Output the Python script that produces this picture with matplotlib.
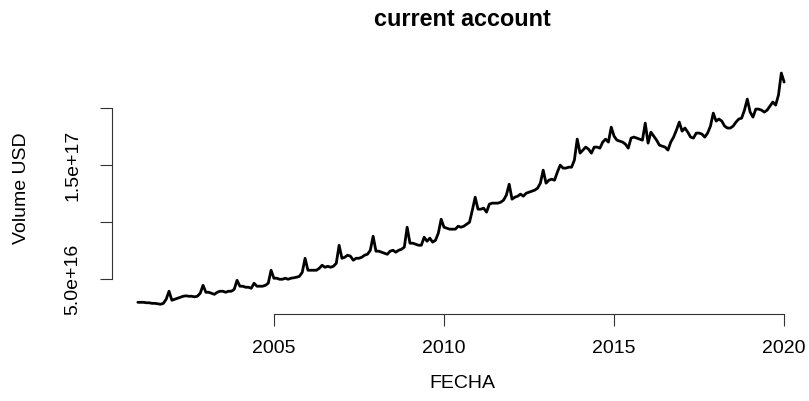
import numpy as np
import matplotlib
matplotlib.use("Agg")
import matplotlib.pyplot as plt

plt.rcParams['font.family'] = ['Liberation Sans', 'DejaVu Sans']

# Monthly current-account volume, in units of 1e16 USD (Jan..Dec)
start_year = 2001
vol_2001 = [2.98, 2.98, 2.98, 2.94, 2.94, 2.89, 2.89, 2.85, 2.81, 2.89, 3.25, 3.95]
vol_2002 = [3.16, 3.25, 3.33, 3.42, 3.51, 3.55, 3.51, 3.51, 3.46, 3.51, 3.77, 4.47]
vol_2003 = [3.86, 3.86, 3.77, 3.68, 3.86, 3.95, 3.95, 3.86, 3.95, 3.95, 4.12, 4.91]
vol_2004 = [4.39, 4.39, 4.30, 4.30, 4.21, 4.65, 4.39, 4.39, 4.39, 4.47, 4.65, 5.79]
vol_2005 = [5.09, 5.09, 5.00, 5.00, 5.09, 5.00, 5.09, 5.13, 5.18, 5.26, 5.61, 6.84]
vol_2006 = [5.79, 5.79, 5.79, 5.79, 5.96, 6.23, 6.05, 6.14, 6.05, 6.14, 6.40, 7.98]
vol_2007 = [6.84, 6.93, 7.11, 7.02, 6.67, 6.84, 6.84, 6.93, 7.11, 7.19, 7.54, 8.77]
vol_2008 = [7.46, 7.46, 7.37, 7.28, 7.19, 7.46, 7.54, 7.37, 7.54, 7.63, 7.81, 9.56]
vol_2009 = [8.16, 8.16, 8.07, 7.98, 7.98, 8.68, 8.33, 8.60, 8.25, 8.42, 9.04, 10.26]
vol_2010 = [9.56, 9.47, 9.39, 9.39, 9.39, 9.65, 9.56, 9.65, 9.82, 10.00, 11.05, 12.19]
vol_2011 = [11.14, 11.14, 11.23, 10.88, 11.58, 11.67, 11.67, 11.67, 11.75, 11.93, 12.37, 13.33]
vol_2012 = [12.02, 12.19, 12.28, 12.46, 12.28, 12.54, 12.63, 12.72, 12.81, 12.98, 13.42, 14.56]
vol_2013 = [13.42, 13.68, 13.77, 13.68, 14.39, 15.00, 14.74, 14.74, 14.82, 14.82, 15.44, 17.28]
vol_2014 = [16.05, 16.32, 16.58, 16.40, 16.05, 16.58, 16.58, 16.49, 17.02, 17.28, 17.02, 18.33]
vol_2015 = [17.54, 17.19, 17.11, 17.02, 16.84, 16.49, 17.37, 17.46, 17.37, 17.28, 17.19, 18.68]
vol_2016 = [16.93, 17.89, 17.54, 17.19, 16.75, 16.67, 16.58, 16.32, 17.02, 17.46, 18.07, 18.77]
vol_2017 = [17.98, 18.25, 17.89, 17.46, 17.37, 17.81, 17.81, 17.72, 17.46, 17.81, 18.42, 19.56]
vol_2018 = [18.86, 19.04, 18.86, 18.42, 18.25, 18.25, 18.42, 18.77, 19.04, 19.12, 19.82, 20.79]
vol_2019 = [19.65, 19.21, 19.91, 19.91, 19.82, 19.65, 19.82, 20.18, 20.53, 20.26, 21.14, 23.07]
vol_2020 = [22.28]

x_ticks = [2005, 2010, 2015, 2020]
y_ticks = [5e16, 1e17, 1.5e17, 2e17]
y_tick_labels = ["5.0e+16", "", "1.5e+17", ""]

volume = np.concatenate([vol_2001, vol_2002, vol_2003, vol_2004, vol_2005,
                         vol_2006, vol_2007, vol_2008, vol_2009, vol_2010,
                         vol_2011, vol_2012, vol_2013, vol_2014, vol_2015,
                         vol_2016, vol_2017, vol_2018, vol_2019, vol_2020]) * 1e16
fecha = start_year + np.arange(len(volume)) / 12.0

W, H = 809, 401
fig = plt.figure(figsize=(W / 100, H / 100), dpi=100)
top, bottom, left, right = 63.8, 313.5, 112, 810
ax = fig.add_axes([left / W, (H - bottom) / H, (right - left) / W, (bottom - top) / H])

ax.plot(fecha, volume, color='black', lw=2.0, solid_joinstyle='round', solid_capstyle='round')
ax.margins(x=0.04, y=0.04)

for side in ('top', 'right'):
    ax.spines[side].set_visible(False)
ax.spines['left'].set_bounds(y_ticks[0], y_ticks[-1])
ax.spines['bottom'].set_bounds(x_ticks[0], x_ticks[-1])
for side in ('left', 'bottom'):
    ax.spines[side].set_linewidth(0.8)
    ax.spines[side].set_color('#333333')

ax.set_xticks(x_ticks)
ax.set_xticklabels([str(v) for v in x_ticks])
ax.set_yticks(y_ticks)
ax.set_yticklabels(y_tick_labels, rotation=90, va='center')
ax.tick_params(axis='both', direction='out', length=8.5, width=0.8, color='#333333',
               labelsize=14, labelcolor='black')
ax.tick_params(axis='x', pad=10.5)
ax.tick_params(axis='y', pad=13.5)

fig.text(462 / W, 1 - 20 / H, 'current account', ha='center', va='center',
         fontsize=16.8, fontweight='bold')
fig.text(462 / W, 1 - 384 / H, 'FECHA', ha='center', va='center', fontsize=14)
fig.text(22 / W, 1 - 188 / H, 'Volume USD', ha='center', va='center', fontsize=14, rotation=90)

fig.savefig('out.png', dpi=100)
